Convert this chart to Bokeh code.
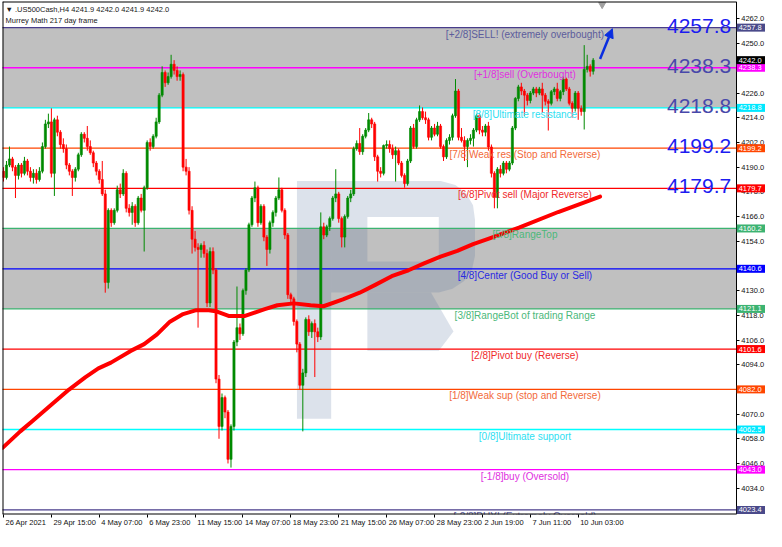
from bokeh.plotting import figure
from bokeh.models import (Range1d, LinearAxis, FixedTicker, PrintfTickFormatter,
                          ColumnDataSource, Label, Arrow, NormalHead)
from bokeh.embed import file_html
from bokeh.resources import INLINE
from bokeh.core.properties import value

# ---------------- data ----------------
opens = [4188, 4185, 4191, 4194, 4190, 4186, 4191, 4187, 4193, 4188,
         4185, 4187, 4184, 4188, 4200, 4211, 4212, 4187, 4213, 4207,
         4201, 4199, 4191, 4188, 4185, 4189, 4196, 4206, 4204, 4200,
         4197, 4192, 4188, 4184, 4177, 4134, 4169, 4163, 4169, 4179,
         4177, 4187, 4170, 4168, 4171, 4163, 4175, 4169, 4180, 4202,
         4200, 4205, 4212, 4225, 4236, 4231, 4234, 4240, 4237, 4234,
         4235, 4190, 4188, 4169, 4155, 4151, 4150, 4152, 4148, 4124,
         4149, 4140, 4087, 4064, 4078, 4071, 4048, 4064, 4105, 4112,
         4109, 4130, 4140, 4162, 4175, 4180, 4163, 4171, 4156, 4150,
         4163, 4168, 4175, 4179, 4169, 4157, 4128, 4126, 4115, 4104,
         4084, 4090, 4116, 4110, 4114, 4110, 4107.5, 4161, 4157, 4161,
         4165, 4175, 4177, 4165, 4156, 4166, 4175, 4177, 4199, 4201.5,
         4197.5, 4205, 4208, 4213, 4211, 4195, 4188, 4187, 4200.5, 4201,
         4199, 4196, 4198, 4192, 4186, 4182, 4193, 4209, 4200, 4213,
         4217, 4214, 4213, 4204.5, 4209, 4206, 4210, 4200, 4195, 4203,
         4204.5, 4215, 4227, 4204.5, 4203, 4200, 4203, 4204, 4208, 4215,
         4208, 4207, 4210, 4199.8, 4187, 4175.3, 4189, 4187, 4192, 4189,
         4192, 4209, 4223.4, 4229, 4227, 4225, 4222.4, 4226, 4228, 4226,
         4228, 4225, 4222, 4221, 4226.7, 4228, 4223.4, 4226.7, 4232.8, 4228,
         4221, 4218.6, 4226, 4218.6, 4217, 4237.5, 4239, 4236.6]
highs = [4190, 4193, 4200, 4195, 4191, 4192, 4192, 4195, 4194, 4190,
         4189, 4189, 4190, 4202, 4213, 4216, 4218.6, 4214, 4215, 4208,
         4204, 4201, 4192, 4189, 4190, 4197, 4207, 4207, 4210, 4203,
         4198, 4193, 4189, 4193, 4179, 4170, 4170, 4170, 4181, 4182,
         4189, 4188, 4172, 4173, 4172, 4176, 4177, 4181, 4203, 4204,
         4206, 4214, 4226, 4239, 4237, 4236, 4244.6, 4242, 4239, 4237,
         4236, 4194, 4190, 4171, 4159, 4153, 4153, 4154, 4150, 4151,
         4151, 4141, 4089, 4080, 4079, 4072, 4065, 4106, 4132, 4114,
         4131, 4141, 4163, 4176, 4183, 4181, 4172, 4172, 4157, 4164,
         4169, 4176, 4185, 4180, 4170, 4158, 4129, 4127, 4116, 4105,
         4092, 4117, 4118, 4115, 4116, 4112, 4168, 4163, 4162, 4166,
         4176, 4189, 4178, 4166, 4167, 4176, 4179, 4200, 4203, 4209,
         4206, 4209, 4216.3, 4214, 4212, 4196, 4190, 4201, 4203, 4203,
         4201, 4200, 4199, 4193, 4187, 4194, 4210, 4211, 4214, 4220,
         4219, 4217, 4214, 4210, 4211, 4212, 4211, 4201, 4204, 4206,
         4216, 4232.8, 4228, 4209, 4205, 4204, 4206, 4209, 4216, 4216,
         4210, 4211, 4212, 4201, 4188, 4190, 4191, 4193, 4193, 4193,
         4210, 4224, 4230, 4231, 4228, 4226, 4227, 4229, 4229, 4229,
         4231, 4226, 4223, 4227.5, 4229, 4231, 4227.5, 4234, 4233.5, 4229,
         4222, 4227, 4227, 4220, 4249.3, 4244.6, 4240, 4243]
lows = [4183, 4184, 4190, 4188, 4175, 4184, 4185, 4186, 4186, 4183,
        4182, 4182, 4183, 4187, 4199, 4209, 4185, 4176, 4205, 4199,
        4197, 4189, 4186, 4176, 4183, 4188, 4195, 4202, 4198, 4196,
        4190, 4186, 4182, 4176, 4129, 4131, 4161, 4162, 4168, 4175,
        4176, 4168, 4166, 4162, 4161, 4162, 4168, 4149, 4179, 4198,
        4199, 4204, 4211, 4224, 4229, 4230, 4233, 4235, 4232, 4232,
        4188, 4186, 4167, 4148, 4149, 4112, 4146, 4146, 4122, 4122,
        4138, 4085, 4058, 4062, 4068, 4046, 4044, 4062, 4103, 4106,
        4108, 4128, 4139, 4161, 4173, 4161, 4162, 4154, 4142, 4148,
        4161, 4166, 4174, 4168, 4155, 4126, 4124, 4113, 4100, 4082,
        4061.6, 4088, 4108, 4107, 4088, 4105, 4106, 4155, 4156, 4159,
        4164, 4173, 4163, 4151, 4151, 4165, 4173, 4176, 4198, 4196,
        4196, 4204, 4207, 4209, 4193, 4183, 4185, 4186, 4199, 4197,
        4194, 4183, 4191, 4185, 4180, 4181, 4192, 4199, 4199, 4212,
        4213, 4211, 4203, 4203, 4205, 4205, 4199, 4193, 4194, 4201,
        4203, 4214, 4203, 4202, 4193, 4190, 4201, 4200, 4207, 4206,
        4205, 4205, 4198, 4185, 4170, 4170, 4185, 4186, 4187, 4188,
        4191, 4208, 4222, 4225, 4215, 4220, 4221, 4225, 4224, 4225,
        4216.3, 4220, 4207.8, 4220, 4225, 4222, 4222, 4225, 4227, 4220,
        4214, 4217, 4213, 4215, 4208.3, 4236, 4234, 4235]
closes = [4185, 4191, 4194, 4190, 4186, 4191, 4187, 4193, 4188, 4185,
          4187, 4184, 4188, 4200, 4211, 4212, 4187, 4213, 4207, 4201,
          4199, 4191, 4188, 4185, 4189, 4196, 4206, 4204, 4200, 4197,
          4192, 4188, 4184, 4177, 4134, 4169, 4163, 4169, 4179, 4177,
          4187, 4170, 4168, 4171, 4163, 4175, 4169, 4180, 4202, 4200,
          4205, 4212, 4225, 4236, 4231, 4234, 4240, 4237, 4234, 4235,
          4190, 4188, 4169, 4155, 4151, 4150, 4152, 4148, 4124, 4149,
          4140, 4087, 4064, 4078, 4071, 4048, 4064, 4105, 4112, 4109,
          4130, 4140, 4162, 4175, 4180, 4163, 4171, 4156, 4150, 4163,
          4168, 4175, 4179, 4169, 4157, 4128, 4126, 4115, 4104, 4084,
          4090, 4116, 4110, 4114, 4110, 4107.5, 4161, 4157, 4161, 4165,
          4175, 4177, 4165, 4156, 4166, 4175, 4177, 4199, 4201.5, 4197.5,
          4205, 4208, 4213, 4211, 4195, 4188, 4187, 4200.5, 4201, 4199,
          4196, 4198, 4192, 4186, 4182, 4193, 4209, 4200, 4213, 4217,
          4214, 4213, 4204.5, 4209, 4206, 4210, 4200, 4195, 4203, 4204.5,
          4215, 4227, 4204.5, 4203, 4200, 4203, 4204, 4208, 4215, 4208,
          4207, 4210, 4199.8, 4187, 4175.3, 4189, 4187, 4192, 4189, 4192,
          4209, 4223.4, 4229, 4227, 4225, 4222.4, 4226, 4228, 4226, 4228,
          4225, 4222, 4221, 4226.7, 4228, 4223.4, 4226.7, 4232.8, 4228, 4221,
          4218.6, 4226, 4218.6, 4217, 4237.5, 4239, 4236.6, 4242.0]

# moving average read at sample points (bar index, price)
ma_idx = [-0.3, 5.6, 9.8, 15.4, 21.9, 27.4, 31.7, 35.9, 42.5, 47.0, 51.3, 55.6,
          60.0, 64.4, 68.6, 70.9, 75.2, 80.7, 87.3, 91.5, 97.0, 102.6, 106.9,
          113.4, 119.0, 124.2, 129.7, 135.3, 140.5, 146.0, 151.6, 156.9, 162.4,
          172.2, 185.3, 199.3]
ma_val = [4053.6, 4061.6, 4066.8, 4073.8, 4081.9, 4088.0, 4092.2, 4095.0, 4100.7,
          4104.0, 4108.7, 4114.9, 4118.6, 4120.5, 4120.5, 4120.0, 4117.7, 4117.7,
          4121.0, 4122.9, 4123.8, 4122.9, 4122.4, 4125.7, 4129.0, 4132.8, 4137.0,
          4139.9, 4143.2, 4146.5, 4149.3, 4152.6, 4155.4, 4160.6, 4168.2, 4175.7]

levels = [4257.8, 4238.3, 4218.8, 4199.2, 4179.7, 4160.2, 4140.6,
          4121.1, 4101.6, 4082.0, 4062.5, 4043.0, 4023.4]
level_names = ["[+2/8]SELL! (extremely overbought)", "[+1/8]sell (Overbought)",
               "[8/8]Ultimate resistance", "[7/8]Weak res (Stop and Reverse)",
               "[6/8]Pivot sell (Major Reverse)", "[5/8]RangeTop",
               "[4/8]Center (Good Buy or Sell)", "[3/8]RangeBot of trading Range",
               "[2/8]Pivot buy (Reverse)", "[1/8]Weak sup (stop and Reverse)",
               "[0/8]Ultimate support", "[-1/8]buy (Oversold)",
               "[-2/8]BUY! (Extremely Oversold)"]
big_levels = [4257.8, 4238.3, 4218.8, 4199.2, 4179.7]
last_price = 4242.0
gray_bands = [(4218.8, 4257.8), (4121.1, 4160.2)]

tick_idx = [0, 16, 32, 48, 64, 80, 96, 112, 128, 144, 160, 176, 192]
tick_labels = ["26 Apr 2021", "29 Apr 15:00", "4 May 07:00", "6 May 23:00",
               "11 May 15:00", "14 May 07:00", "18 May 23:00", "21 May 15:00",
               "26 May 07:00", "28 May 23:00", "2 Jun 19:00", "7 Jun 11:00",
               "10 Jun 03:00"]
price_ticks = list(range(4022, 4263, 12))
hidden_price_labels = [4238, 4142, 4082, 4022]

# ---------------- styles / layout ----------------
line_colors = ["#483d8b", "#ff00ff", "#00ffff", "#ff4500", "#ff0000", "#3cb371", "#0000ff",
               "#3cb371", "#ff0000", "#ff4500", "#00ffff", "#ff00ff", "#483d8b"]
text_colors = ["#5c5c9c", "#e030e0", "#2ee0f2", "#f26a3a", "#f02a2a", "#4cb87a", "#2a2ae0",
               "#4cb87a", "#f02a2a", "#f26a3a", "#2ee0f2", "#e030e0", "#5c5c9c"]
box_colors = ["#4a4a8a", "#ff00ff", "#00e8ff", "#ff4500", "#ff0000", "#3cb371", "#0000ff",
              "#3cb371", "#ff0000", "#ff4500", "#00e8ff", "#ff00ff", "#4a4a8a"]
big_colors = ["#1c1cf0", "#4848aa", "#4848aa", "#1c1cf0", "#1c1cf0"]
BULL, BEAR = "#008a00", "#ff0000"
FONT = "Liberation Sans"

FW, FH = 764, 513
X0, X1 = -0.33, 254.9      # full frame incl. price-scale strip
XE = 244.8                 # chart border / price scale line
Y0, Y1 = 4021.2, 4270.5
PX_PER_BAR = FW / (X1 - X0)

p = figure(frame_width=FW, frame_height=FH, x_range=Range1d(X0, X1), y_range=Range1d(Y0, Y1),
           x_axis_location=None, y_axis_location=None, toolbar_location=None,
           output_backend="svg", min_border_left=2, min_border_right=0,
           min_border_top=1, min_border_bottom=0, background_fill_color="white",
           border_fill_color="white", outline_line_color=None)
p.xgrid.visible = False
p.ygrid.visible = False

# gray bands (only inside chart area)
p.quad(left=[X0] * len(gray_bands), right=[XE] * len(gray_bands),
       bottom=[b for b, t in gray_bands], top=[t for b, t in gray_bands],
       fill_color="#c0c0c0", line_color=None)


# watermark (decorative logo), described in reference pixel space
def px(xp, yp):
    return (xp - 3) / 3.06, 4257.8 - (yp - 27) / 2.12


def ring(pts):
    xs, ys = zip(*[px(a, b) for a, b in pts])
    return list(xs), list(ys)


stem = ring([(303, 185), (338, 185), (338, 430), (303, 430)])
bowl = ring([(338, 185), (450, 185), (465, 189), (476, 198), (483, 210), (485, 225),
             (485, 262), (482, 276), (474, 288), (462, 296), (448, 300), (338, 300)])
hole = ring([(375, 222), (448, 222), (448, 268), (375, 268)])
leg = ring([(375, 300), (440, 300), (463, 340), (448, 360), (375, 360)])
p.multi_polygons(xs=[[[stem[0]]], [[bowl[0], hole[0]]], [[leg[0]]]],
                 ys=[[[stem[1]]], [[bowl[1], hole[1]]], [[leg[1]]]],
                 fill_color="#50709a", fill_alpha=0.2, line_color=None)

# level lines
p.segment(x0=[X0 - 5] * len(levels), x1=[XE] * len(levels), y0=levels, y1=levels,
          line_color=line_colors, line_width=1.3)

# candles
idx = list(range(len(closes)))
cols = [BULL if c >= o else BEAR for o, c in zip(opens, closes)]
src = ColumnDataSource(dict(x=idx, h=highs, l=lows,
                            top=[max(o, c) for o, c in zip(opens, closes)],
                            bot=[min(o, c) for o, c in zip(opens, closes)], col=cols))
p.segment(x0="x", y0="h", x1="x", y1="l", source=src, line_color="col", line_width=1)
p.vbar(x="x", width=0.72, top="top", bottom="bot", source=src, fill_color="col",
       line_color="col", line_width=0.6)

# moving average
p.line(ma_idx, ma_val, line_color="#ff0000", line_width=4, line_join="round", line_cap="round")

# level texts
lsrc = ColumnDataSource(dict(x=[174.2] * len(levels), y=levels, t=level_names, c=text_colors))
p.text(x="x", y="y", text="t", text_color="c", source=lsrc, text_align="center",
       text_baseline="top", y_offset=1, text_font_size="10px", text_font=value(FONT))

# big level numbers
bsrc = ColumnDataSource(dict(x=[243.1] * len(big_levels), y=big_levels,
                             t=["%.1f" % v for v in big_levels], c=big_colors))
p.text(x="x", y="y", text="t", text_color="c", source=bsrc, text_align="right",
       text_baseline="alphabetic", y_offset=-2, text_font_size="21px", text_font=value(FONT))

# arrow
p.add_layout(Arrow(end=NormalHead(size=9, fill_color="#0a2ee0", line_color="#0a2ee0"),
                   x_start=199.3, y_start=4242.6, x_end=203.4, y_end=4257.3,
                   line_color="#0a2ee0", line_width=2.5))

# small chart-shift marker
p.scatter(x=[200], y=[4269.0], marker="inverted_triangle", size=7, color="#a0a0a0")

# chart border (left, top, bottom)
p.segment(x0=[X0, X0, X0], y0=[Y0, Y1, Y0], x1=[X0, XE, XE], y1=[Y1, Y1, Y0],
          line_color="black", line_width=2)

# price scale (axis fixed on the chart border)
yax = LinearAxis(ticker=FixedTicker(ticks=price_ticks), formatter=PrintfTickFormatter(format="%.1f"),
                 major_label_overrides={t: "" for t in hidden_price_labels},
                 fixed_location=XE,
                 major_label_text_font_size="7.5px", major_label_text_font=FONT,
                 major_label_text_color="#111111", major_tick_in=0, major_tick_out=3,
                 minor_tick_in=0, minor_tick_out=0, axis_line_color="black",
                 major_tick_line_color="black", major_label_standoff=2)
p.add_layout(yax, "right")

# time scale: tick marks axis + label axis (labels start at the tick, MT4 style)
CW = {"0": .556, "1": .556, "2": .556, "3": .556, "4": .556, "5": .556, "6": .556,
      "7": .556, "8": .556, "9": .556, " ": .278, ":": .278, "A": .667, "p": .556,
      "r": .333, "M": .833, "a": .556, "y": .5, "J": .5, "u": .556, "n": .556}
XFS = 7.5
label_pos = [round(t + (2 + 0.5 * XFS * sum(CW.get(ch, .55) for ch in s)) / PX_PER_BAR, 3)
             for t, s in zip(tick_idx, tick_labels)]
xax_t = LinearAxis(ticker=FixedTicker(ticks=tick_idx),
                   major_label_overrides={t: "" for t in tick_idx},
                   major_label_text_font_size="1px", major_label_standoff=0,
                   major_tick_in=0, major_tick_out=3, minor_tick_in=0, minor_tick_out=0,
                   axis_line_color=None, major_tick_line_color="black")
xax_l = LinearAxis(ticker=FixedTicker(ticks=label_pos),
                   major_label_overrides={k: v for k, v in zip(label_pos, tick_labels)},
                   major_label_text_font_size="%spx" % XFS, major_label_text_font=FONT,
                   major_label_text_color="#111111", major_label_standoff=0,
                   major_tick_in=0, major_tick_out=0, minor_tick_in=0, minor_tick_out=0,
                   axis_line_color=None, major_tick_line_color=None)
p.add_layout(xax_t, "below")
p.add_layout(xax_l, "below")

# price boxes on the price scale
bx = ColumnDataSource(dict(y=levels, t=["%.1f" % v for v in levels], c=box_colors))
p.rect(x=XE + 0.15 + 4.725, y="y", width=9.45, height=8, height_units="screen",
       source=bx, fill_color="c", line_color=None, level="annotation")
p.text(x=XE + 0.8, y="y", text="t", source=bx, text_color="white", text_baseline="middle",
       text_align="left", text_font_size="7.5px", text_font=value(FONT), level="annotation")
cp = ColumnDataSource(dict(y=[last_price], t=["%.1f" % last_price]))
p.rect(x=XE + 0.15 + 4.725, y="y", width=9.45, height=8, height_units="screen",
       source=cp, fill_color="black", line_color=None, level="annotation")
p.text(x=XE + 0.8, y="y", text="t", source=cp, text_color="white", text_baseline="middle",
       text_align="left", text_font_size="7.5px", text_font=value(FONT), level="annotation")

# header
p.add_layout(Label(x=3, y=FH - 8, x_units="screen", y_units="screen",
                   text="\u25bc .US500Cash,H4  4241.9 4242.0 4241.9 4242.0",
                   text_font_size="7.5px", text_font=FONT, text_color="#202020",
                   text_baseline="middle"))
p.add_layout(Label(x=3, y=FH - 19, x_units="screen", y_units="screen",
                   text="Murrey Math 217 day frame", text_font_size="7.5px", text_font=FONT,
                   text_color="#202020", text_baseline="middle"))

open("out.html", "w").write(file_html(p, INLINE))
